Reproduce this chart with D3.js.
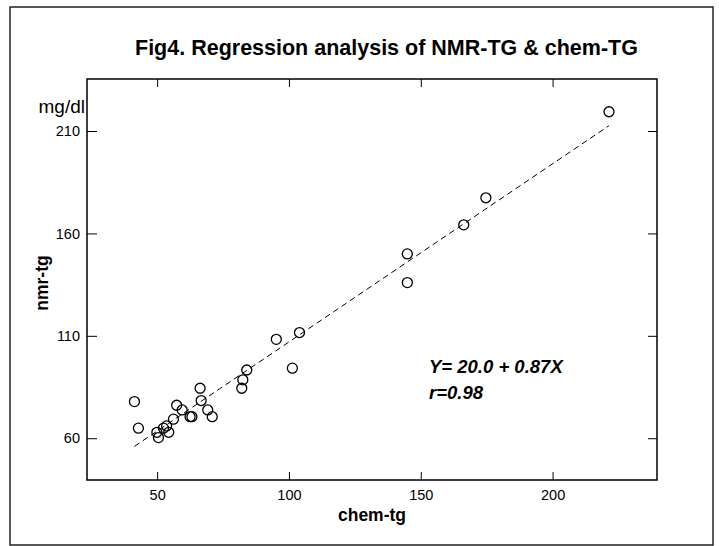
<!DOCTYPE html>
<html><head><meta charset="utf-8">
<script src="https://cdn.jsdelivr.net/npm/d3@7"></script>
<style>
html,body{margin:0;padding:0;background:#fff;}
svg{display:block;font-family:"Liberation Sans",Arial,sans-serif;}
</style></head>
<body>
<svg id="c" width="719" height="546"></svg>
<script>
// Data
const chemTg = [41.4, 42.9, 49.9, 50.5, 52.4, 53.6, 54.4, 56.2, 57.4, 59.5, 62.5, 63.2, 66.3, 66.7, 69.2, 70.9, 82.1, 82.5, 84.0, 95.2, 101.3, 104.0, 144.9, 144.9, 166.3, 174.7, 221.4];
const nmrTg  = [77.9, 64.9, 62.9, 60.3, 64.9, 66.0, 62.9, 69.3, 76.1, 73.8, 70.5, 70.5, 84.4, 78.4, 73.8, 70.5, 84.4, 88.5, 93.3, 108.3, 94.2, 111.6, 150.0, 136.0, 164.2, 177.4, 219.4];
const xTicks = [50, 100, 150, 200];
const yTicks = [60, 110, 160, 210];
const intercept = 20.0, slope = 0.87;
const titleText = "Fig4. Regression analysis of NMR-TG & chem-TG";
const xLabel = "chem-tg", yLabel = "nmr-tg", yUnit = "mg/dl";
const eqText = "Y= 20.0 + 0.87X", rText = "r=0.98";

const svg = d3.select("#c");
const L = 87, R = 657, T = 79, B = 480;
const x = d3.scaleLinear().domain([23.4, 239.6]).range([L, R]);
const y = d3.scaleLinear().domain([39.6, 235.4]).range([B, T]);

// outer border
svg.append("rect").attr("x", 10).attr("y", 7).attr("width", 703).attr("height", 538)
  .attr("fill", "none").attr("stroke", "#222").attr("stroke-width", 1.5);

// title
svg.append("text").attr("x", 135).attr("y", 55).attr("text-anchor", "start")
  .attr("font-size", 21.5).attr("font-weight", "bold").attr("fill", "#000").text(titleText);

// plot frame
svg.append("rect").attr("x", L).attr("y", T).attr("width", R - L).attr("height", B - T)
  .attr("fill", "none").attr("stroke", "#000").attr("stroke-width", 1.5);

// axes
const axB = d3.axisBottom(x).tickValues(xTicks).tickSize(-8).tickPadding(10).tickFormat(d3.format("d"));
const gB = svg.append("g").attr("transform", `translate(0,${B})`).call(axB);
const axT = d3.axisTop(x).tickValues(xTicks).tickSize(-8).tickFormat("");
const gT = svg.append("g").attr("transform", `translate(0,${T})`).call(axT);
const axL = d3.axisLeft(y).tickValues(yTicks).tickSize(-10).tickPadding(7).tickFormat(d3.format("d"));
const gL = svg.append("g").attr("transform", `translate(${L},0)`).call(axL);
const axR = d3.axisRight(y).tickValues(yTicks).tickSize(-9).tickFormat("");
const gR = svg.append("g").attr("transform", `translate(${R},0)`).call(axR);
[gB, gT, gL, gR].forEach(g => {
  g.select(".domain").remove();
  g.selectAll(".tick line").attr("stroke", "#000").attr("stroke-width", 1);
  g.selectAll(".tick text").attr("font-size", 14.5).attr("fill", "#000")
    .attr("font-family", "'Liberation Sans',Arial,sans-serif");
});

// axis labels
svg.append("text").attr("x", 372).attr("y", 521).attr("text-anchor", "middle")
  .attr("font-size", 17.5).attr("font-weight", "bold").text(xLabel);
svg.append("text").attr("transform", "translate(48,283) rotate(-90)").attr("text-anchor", "middle")
  .attr("font-size", 17.5).attr("font-weight", "bold").text(yLabel);
svg.append("text").attr("x", 85).attr("y", 113).attr("text-anchor", "end")
  .attr("font-size", 19).text(yUnit);

// regression line
const xr = d3.extent(chemTg);
const line = d3.line().x(d => x(d)).y(d => y(intercept + slope * d));
svg.append("path").datum(xr).attr("d", line).attr("fill", "none")
  .attr("stroke", "#000").attr("stroke-width", 1).attr("stroke-dasharray", "6,4");

// points
svg.append("g").selectAll("circle").data(chemTg).join("circle")
  .attr("cx", d => x(d)).attr("cy", (d, i) => y(nmrTg[i])).attr("r", 5)
  .attr("fill", "none").attr("stroke", "#000").attr("stroke-width", 1.3);

// annotation
svg.append("text").attr("x", 429).attr("y", 373).attr("font-size", 18.5)
  .attr("font-weight", "bold").attr("font-style", "italic").text(eqText);
svg.append("text").attr("x", 429).attr("y", 399).attr("font-size", 18.5)
  .attr("font-weight", "bold").attr("font-style", "italic").text(rText);
</script>
</body></html>
